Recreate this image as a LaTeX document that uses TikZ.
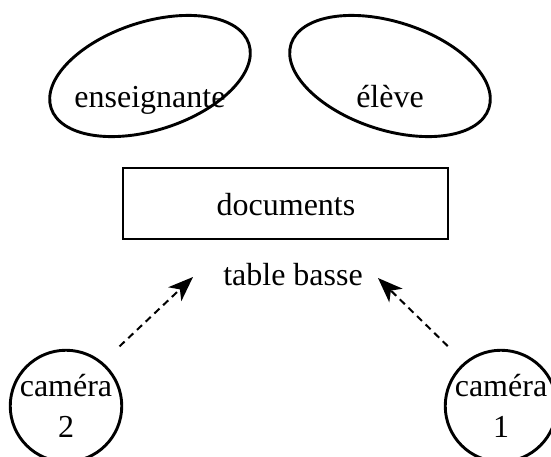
\documentclass[tikz,border=0pt]{standalone}
\usepackage{fontspec}
\setmainfont{Liberation Serif}
\usetikzlibrary{shapes.geometric,arrows.meta}
\tikzset{
	person/.style={ % requires library shapes.geometric
		draw,
		ellipse,
		line width=2.9pt,
		minimum width=208pt,
		minimum height=108pt,
		inner sep=0pt,
	},
	word/.style={
		anchor=base,
		inner sep=0pt,
	},
	table-top/.style={
		draw,
		rectangle,
		line width=2.9pt,
		minimum width=325pt,
		minimum height=71pt,
	},
	camera/.style={
		draw,
		circle,
		line width=2.9pt,
		minimum size=108pt,
		inner sep=0pt,
		align=center,
	},
	view/.style={
		line width=2pt,
		dash pattern=on 7pt off 5pt,
		-{Stealth[length=25pt,width=19pt,inset=7pt]},
		shorten <=23pt,
	},
}

\begin{document}
\begin{tikzpicture}[x=1pt,y=-1pt,font=\fontsize{32}{41}\selectfont]
		\useasboundingbox (0,0) rectangle (551,456);
		\node[person,rotate=18] (ens) at (150,76) {};
		\node[word] (enstxt) at (150,107) {enseignante};
		\node[person,rotate=-18] (elv) at (390,76) {};
		\node[word] (elvtxt) at (390,107) {élève};
		\node[table-top] (docs) at (285.5,203.5) {};
		\node[word] (docstxt) at (286,215) {documents};
		\node[word] (tbl) at (293,285) {table basse};
		\node[camera] (cam2) at (66,406) {caméra\\2};
		\node[camera] (cam1) at (501,406) {caméra\\1};
		\coordinate (tipL) at (193,277);
		\coordinate (tipR) at (378,278);
		\draw[view] (cam2.50) -- (tipL);
		\draw[view] (cam1.130) -- (tipR);
	\end{tikzpicture}
\end{document}
